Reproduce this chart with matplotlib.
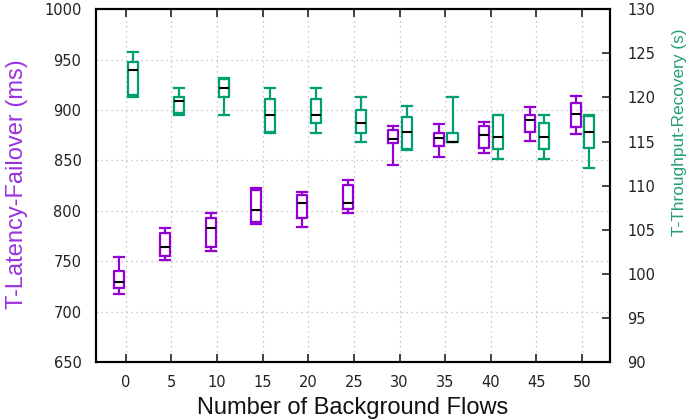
import matplotlib
matplotlib.use("Agg")
import matplotlib.pyplot as plt

flows = [0, 5, 10, 15, 20, 25, 30, 35, 40, 45, 50]

# T-Latency-Failover (ms): whisker low, q1, median, q3, whisker high
lat_lo = [717, 751, 760, 787, 784, 798, 845, 853, 857, 869, 876]
lat_q1 = [723, 755, 764, 789, 793, 802, 867, 864, 862, 878, 883]
lat_med = [729, 764, 783, 801, 808, 808, 871, 872, 875, 890, 896]
lat_q3 = [740, 778, 793, 821, 816, 826, 880, 877, 884, 895, 907]
lat_hi = [754, 783, 798, 823, 819, 831, 884, 886, 888, 903, 914]

# T-Throughput-Recovery (s)
rec_lo = [120.1, 118.0, 118.0, 116.0, 116.0, 115.0, 114.0, 115.0, 113.0, 113.0, 112.0]
rec_q1 = [120.3, 118.2, 120.1, 116.1, 117.1, 116.0, 114.2, 115.0, 114.2, 114.2, 114.3]
rec_med = [123.1, 119.6, 121.1, 118.05, 118.05, 117.1, 116.1, 115.0, 115.5, 115.5, 116.1]
rec_q3 = [124.0, 120.1, 122.1, 119.8, 119.8, 118.6, 117.8, 116.0, 118.05, 117.1, 117.9]
rec_hi = [125.1, 121.05, 122.2, 121.05, 121.05, 120.0, 119.0, 120.0, 118.05, 118.05, 118.05]

purple = '#9400d3'
green = '#009e73'


def stats(lo, q1, med, q3, hi):
    return [dict(whislo=a, q1=b, med=c, q3=d, whishi=e, fliers=[])
            for a, b, c, d, e in zip(lo, q1, med, q3, hi)]


def draw(ax, st, pos, color):
    lw = 1.6
    ax.bxp(st, positions=pos, widths=1.1, capwidths=1.1, showfliers=False,
           boxprops=dict(color=color, lw=lw),
           whiskerprops=dict(color=color, lw=lw),
           capprops=dict(color=color, lw=lw),
           medianprops=dict(color='black', lw=1.5),
           manage_ticks=False)


fig = plt.figure(figsize=(6.96, 4.19), dpi=100)
ax1 = fig.add_axes([0.138, 0.136, 0.739, 0.842])
ax2 = ax1.twinx()

draw(ax1, stats(lat_lo, lat_q1, lat_med, lat_q3, lat_hi),
     [f - 0.7 for f in flows], purple)
draw(ax2, stats(rec_lo, rec_q1, rec_med, rec_q3, rec_hi),
     [f + 0.8 for f in flows], green)

ax1.set_xlim(-3.26, 53.1)
ax1.set_ylim(650, 1000)
ax2.set_ylim(90, 130)
ax1.set_xticks(flows)
ax1.set_xticklabels([str(f) for f in flows])
ax1.set_yticks(range(650, 1001, 50))
ax2.set_yticks(range(90, 131, 5))

ax1.grid(True, linestyle=(0, (1, 3)), color='#b8b8b8', lw=0.9)

for sp in ax1.spines.values():
    sp.set_linewidth(1.5)
for sp in ax2.spines.values():
    sp.set_linewidth(1.5)

ax1.tick_params(axis='x', direction='in', length=6, width=1.2,
                top=True, bottom=True, pad=9.5, labelsize=10.5, colors='#222222')
ax1.tick_params(axis='y', left=False, pad=7, labelsize=10.5, colors='#222222')
ax2.tick_params(axis='y', direction='in', length=6, width=1.2,
                pad=12, labelsize=10.5, colors='#222222')

fig.text(0.506, 0.013, "Number of Background Flows", family='Liberation Sans',
         fontsize=17, ha='center', va='baseline', color='#111111')
fig.text(0.0244, 0.561, "T-Latency-Failover (ms)", family='Liberation Sans',
         fontsize=17, ha='center', va='center', rotation=90, color='#9933dd')
fig.text(0.977, 0.684, "T-Throughput-Recovery (s)", family='Liberation Sans',
         fontsize=12.4, ha='center', va='center', rotation=90, color='#22a070')

fig.savefig("out.png", dpi=100)
